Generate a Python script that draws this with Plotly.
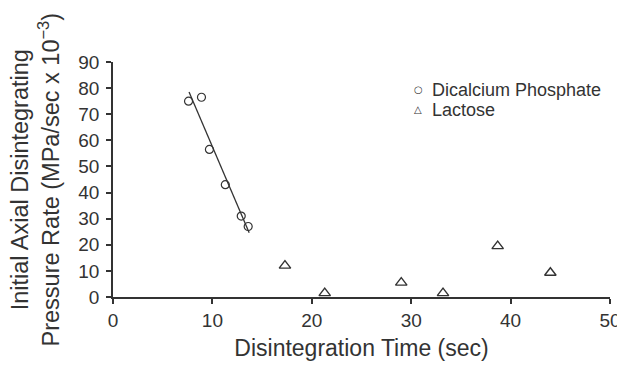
import plotly.graph_objects as go

# Dicalcium phosphate (circles)
dcp_time = [7.6, 8.9, 9.7, 11.3, 12.9, 13.6]
dcp_rate = [75.0, 76.5, 56.5, 43.0, 31.0, 27.0]

# Lactose (triangles)
lac_time = [17.3, 21.3, 29.0, 33.2, 38.7, 44.0]
lac_rate = [12.0, 1.5, 5.5, 1.5, 19.5, 9.3]

# linear fit line through the dicalcium phosphate points
fit_time = [7.65, 13.7]
fit_rate = [78.5, 24.6]

legend_names = ["Dicalcium Phosphate", "Lactose"]
legend_symbols = ["\u25cb", "\u25b3"]

ink = "#333333"
font_family = "Liberation Sans, Arial, sans-serif"

fig = go.Figure()
fig.add_trace(go.Scatter(
    x=fit_time, y=fit_rate, mode="lines",
    line=dict(color=ink, width=1.3), showlegend=False, hoverinfo="skip"))
fig.add_trace(go.Scatter(
    x=dcp_time, y=dcp_rate, mode="markers", name=legend_names[0], showlegend=False,
    marker=dict(symbol="circle-open", size=8, color=ink, line=dict(width=1.2))))
fig.add_trace(go.Scatter(
    x=lac_time, y=lac_rate, mode="markers", name=legend_names[1], showlegend=False,
    marker=dict(symbol="triangle-up-open", size=10, color=ink, line=dict(width=1.4))))

# legend drawn as text so the rows sit as close as in the original
for i, (sym, name) in enumerate(zip(legend_symbols, legend_names)):
    yy = 0.881 - i * 0.085
    fig.add_annotation(xref="paper", yref="paper", x=0.614, y=yy, text=sym,
                       showarrow=False, xanchor="center", yanchor="middle",
                       font=dict(size=10, color=ink, family="DejaVu Sans"))
    fig.add_annotation(xref="paper", yref="paper", x=0.638, y=yy, text=name,
                       showarrow=False, xanchor="left", yanchor="middle",
                       font=dict(size=18, color=ink))

# y axis title as a rotated annotation (sits further left than the axis title allows)
fig.add_annotation(xref="paper", yref="paper", x=-0.155, y=0.5,
                   text="Initial Axial Disintegrating<br>Pressure Rate (MPa/sec x 10<sup>\u22123</sup>)",
                   textangle=-90, showarrow=False, xanchor="center", yanchor="middle",
                   font=dict(size=23.5, color=ink))

fig.update_layout(
    width=617, height=353,
    margin=dict(l=105, r=15, t=54, b=64),
    paper_bgcolor="white", plot_bgcolor="white",
    font=dict(family=font_family, size=19, color=ink),
    showlegend=False,
)
fig.update_xaxes(
    range=[0, 50], dtick=10, showgrid=False, zeroline=False,
    showline=True, linecolor=ink, linewidth=1.5, automargin=False,
    ticks="outside", ticklen=5, tickcolor=ink, tickwidth=1.5, ticklabelstandoff=0,
    ticklabeloverflow="allow",
    title=dict(text="Disintegration Time (sec)", font=dict(size=23), standoff=24),
)
fig.update_yaxes(
    range=[0, 90], dtick=10, showgrid=False, zeroline=False,
    showline=True, linecolor=ink, linewidth=1.5, automargin=False,
    ticks="outside", ticklen=5, tickcolor=ink, tickwidth=1.5, ticklabelstandoff=3,
)

fig.write_html("out.html")
